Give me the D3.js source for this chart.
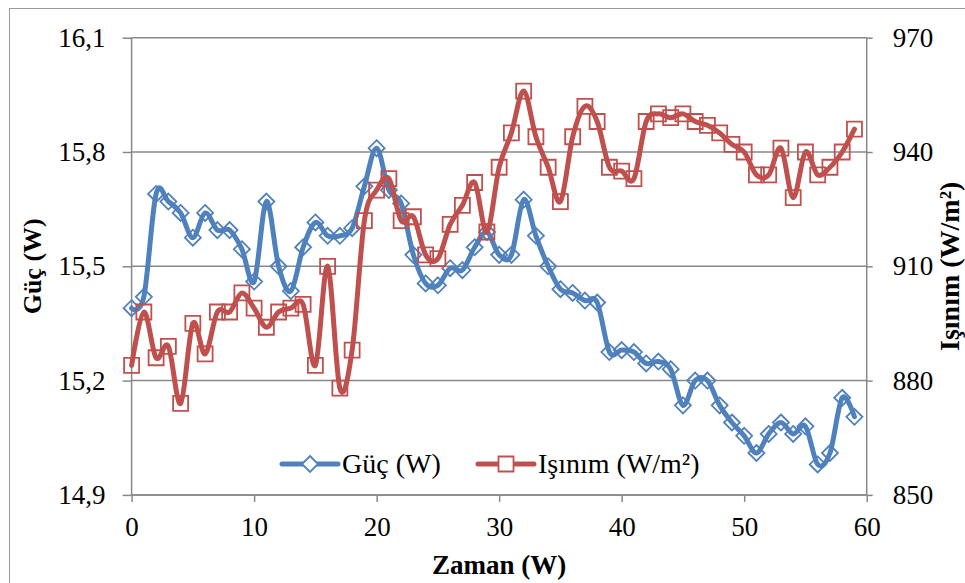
<!DOCTYPE html>
<html lang="tr">
<head>
<meta charset="UTF-8">
<title>Güç ve Işınım</title>
<script src="https://d3js.org/d3.v7.min.js"></script>
<style>
  body { margin: 0; background: #fff; }
  svg text { font-family: "Liberation Serif", Tinos, "Times New Roman", Times, "DejaVu Serif", "Noto Serif", serif; fill: #000; }
</style>
</head>
<body>
<script>
  // values
  const zaman = [0, 1, 2, 3, 4, 5, 6, 7, 8, 9, 10, 11, 12, 13, 14, 15, 16, 17, 18, 19,
    20, 21, 22, 23, 24, 25, 26, 27, 28, 29, 30, 31, 32, 33, 34, 35, 36, 37, 38, 39,
    40, 41, 42, 43, 44, 45, 46, 47, 48, 49, 50, 51, 52, 53, 54, 55, 56, 57, 58, 59];
  const guc = [15.39, 15.42, 15.69, 15.67, 15.64, 15.575, 15.64, 15.595, 15.595, 15.545,
    15.46, 15.67, 15.50, 15.435, 15.55, 15.615, 15.58, 15.58, 15.60, 15.71,
    15.81, 15.70, 15.665, 15.53, 15.455, 15.45, 15.495, 15.49, 15.55, 15.59,
    15.53, 15.53, 15.675, 15.58, 15.50, 15.44, 15.43, 15.41, 15.405, 15.275,
    15.28, 15.275, 15.245, 15.25, 15.23, 15.135, 15.20, 15.20, 15.135, 15.09,
    15.055, 15.01, 15.06, 15.09, 15.06, 15.08, 14.98, 15.01, 15.155, 15.105];
  const isinim = [884, 898, 886, 889, 874, 895, 887, 898, 898, 903,
    899, 894, 898, 899, 900, 884, 910, 878, 888, 922,
    930, 933, 922, 923, 913, 912, 921, 926, 932, 919,
    936, 945, 956, 944, 936, 927, 944, 952, 948, 936,
    935, 933, 948, 950, 949, 950, 948, 947, 945, 942,
    940, 934, 934, 941, 928, 940, 934, 936, 940, 946];
  const xTicks = [0, 10, 20, 30, 40, 50, 60];
  const gucTicks = [14.9, 15.2, 15.5, 15.8, 16.1];
  const isinimTicks = [850, 880, 910, 940, 970];

  const width = 965, height = 583;
  const plotL = 131.6, plotR = 866.7, plotT = 37.7, plotB = 494.9;
  const gray = "#888888";
  const blue = "#4F81BD", red = "#C0504D";
  const serif = '"Liberation Serif", Tinos, "Times New Roman", Times, "DejaVu Serif", "Noto Serif", serif';

  const svg = d3.select("body").append("svg")
    .attr("width", width)
    .attr("height", height)
    .attr("font-family", serif);

  // outer chart border
  svg.append("rect")
    .attr("x", 9.5).attr("y", 8.5)
    .attr("width", 1000).attr("height", 1000)
    .attr("fill", "none")
    .attr("stroke", "#999")
    .attr("stroke-width", 1);

  const x = d3.scaleLinear().domain([0, 60]).range([plotL, plotR]);
  const yL = d3.scaleLinear().domain([14.9, 16.1]).range([plotB, plotT]);
  const yR = d3.scaleLinear().domain([850, 970]).range([plotB, plotT]);

  // gridlines
  svg.append("g").selectAll("line")
    .data(gucTicks)
    .enter().append("line")
    .attr("x1", plotL).attr("x2", plotR)
    .attr("y1", d => yL(d)).attr("y2", d => yL(d))
    .attr("stroke", gray)
    .attr("stroke-width", 1.5);

  const fmt = d => d.toFixed(1).replace(".", ",");

  const axL = svg.append("g")
    .attr("transform", `translate(${plotL},0)`)
    .call(d3.axisLeft(yL).tickValues(gucTicks).tickFormat(fmt).tickSize(9).tickPadding(17));

  const axR = svg.append("g")
    .attr("transform", `translate(${plotR},0)`)
    .call(d3.axisRight(yR).tickValues(isinimTicks).tickSize(6).tickPadding(20));

  const axB = svg.append("g")
    .attr("transform", `translate(0,${plotB})`)
    .call(d3.axisBottom(x).tickValues(xTicks).tickSize(7).tickPadding(15));

  [axL, axR, axB].forEach(ax => {
    ax.attr("font-family", serif).attr("font-size", 27);
    ax.selectAll("path.domain").attr("stroke", gray).attr("stroke-width", 1.5);
    ax.selectAll(".tick line").attr("stroke", gray).attr("stroke-width", 1.5);
    ax.selectAll("text").attr("fill", "#000");
  });
  // no outer tick caps on the domain paths
  axL.select("path.domain").attr("d", `M0,${plotT}V${plotB}`);
  axR.select("path.domain").attr("d", `M0,${plotT}V${plotB}`);
  axB.select("path.domain").attr("d", `M${plotL},0H${plotR}`);

  // series
  const lineGuc = d3.line()
    .x((d, i) => x(zaman[i]))
    .y(d => yL(d))
    .curve(d3.curveCardinal);
  const lineIsinim = d3.line()
    .x((d, i) => x(zaman[i]))
    .y(d => yR(d))
    .curve(d3.curveCardinal);

  const diamond = s => `M0,${-s}L${s},0L0,${s}L${-s},0Z`;
  const square = s => `M${-s},${-s}H${s}V${s}H${-s}Z`;

  svg.append("path")
    .datum(guc)
    .attr("d", lineGuc)
    .attr("fill", "none")
    .attr("stroke", blue)
    .attr("stroke-width", 5)
    .attr("stroke-linecap", "round");

  svg.append("g").selectAll("path")
    .data(guc)
    .enter().append("path")
    .attr("transform", (d, i) => `translate(${x(zaman[i])},${yL(d)})`)
    .attr("d", diamond(8))
    .attr("fill", "none")
    .attr("stroke", blue)
    .attr("stroke-width", 1.8);

  svg.append("path")
    .datum(isinim)
    .attr("d", lineIsinim)
    .attr("fill", "none")
    .attr("stroke", red)
    .attr("stroke-width", 5)
    .attr("stroke-linecap", "round");

  svg.append("g").selectAll("path")
    .data(isinim)
    .enter().append("path")
    .attr("transform", (d, i) => `translate(${x(zaman[i])},${yR(d)})`)
    .attr("d", square(7.5))
    .attr("fill", "none")
    .attr("stroke", red)
    .attr("stroke-width", 1.8);

  // legend
  const legend = [
    { name: "Güç (W)", color: blue, mark: diamond(8), x0: 282 },
    { name: "Işınım (W/m²)", color: red, mark: square(7.5), x0: 478 }
  ];
  const lg = svg.append("g").selectAll("g")
    .data(legend)
    .enter().append("g")
    .attr("transform", d => `translate(${d.x0},464)`);
  lg.append("line")
    .attr("x1", 0).attr("x2", 56)
    .attr("stroke", d => d.color)
    .attr("stroke-width", 5)
    .attr("stroke-linecap", "round");
  lg.append("path")
    .attr("transform", "translate(28,0)")
    .attr("d", d => d.mark)
    .attr("fill", "#fff")
    .attr("stroke", d => d.color)
    .attr("stroke-width", 1.8);
  lg.append("text")
    .attr("x", 60)
    .attr("y", 9)
    .attr("font-size", 28)
    .text(d => d.name);

  // axis titles
  svg.append("text")
    .attr("transform", `translate(41,${(plotT + plotB) / 2}) rotate(-90)`)
    .attr("text-anchor", "middle")
    .attr("font-size", 26)
    .attr("font-weight", "bold")
    .text("Güç (W)");

  svg.append("text")
    .attr("transform", `translate(959,${(plotT + plotB) / 2}) rotate(-90)`)
    .attr("text-anchor", "middle")
    .attr("font-size", 28)
    .attr("font-weight", "bold")
    .text("Işınım (W/m²)");

  svg.append("text")
    .attr("x", (plotL + plotR) / 2)
    .attr("y", 574)
    .attr("text-anchor", "middle")
    .attr("font-size", 27)
    .attr("font-weight", "bold")
    .text("Zaman (W)");
</script>
</body>
</html>
